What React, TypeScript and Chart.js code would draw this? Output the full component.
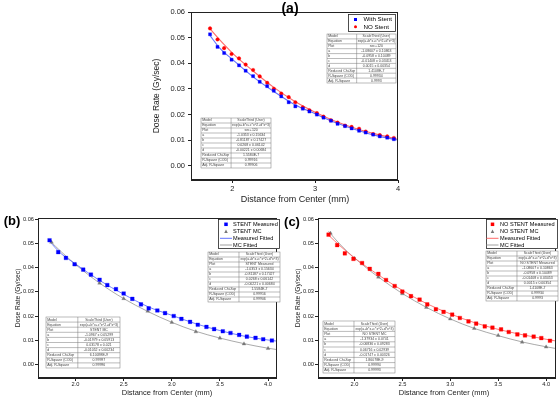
import React, { useEffect, useRef } from "react";
import { Chart, registerables } from "chart.js";
Chart.register(...registerables);

const FONT = '"Liberation Sans", Arial, sans-serif';
Chart.defaults.font.family = FONT;

// ---------------- data ----------------
const measuredX = [1.73, 1.82, 1.9, 1.99, 2.08, 2.16, 2.25, 2.33, 2.42, 2.5, 2.59, 2.68, 2.76, 2.85, 2.93, 3.02, 3.1, 3.19, 3.27, 3.36, 3.44, 3.53, 3.61, 3.7, 3.78, 3.87, 3.95, 4.04];
const withStentMeasured = [0.0513, 0.0464, 0.044, 0.0414, 0.0392, 0.0371, 0.035, 0.0328, 0.0311, 0.0293, 0.0271, 0.0248, 0.0232, 0.0223, 0.0212, 0.02, 0.0188, 0.0176, 0.0164, 0.0155, 0.0146, 0.0137, 0.013, 0.0122, 0.0115, 0.011, 0.0104, 0.0099];
const noStentMeasured = [0.0536, 0.0493, 0.0459, 0.0436, 0.0419, 0.0395, 0.0374, 0.0349, 0.0324, 0.0301, 0.0282, 0.0268, 0.0248, 0.0228, 0.0217, 0.0206, 0.0192, 0.0178, 0.0169, 0.0157, 0.0152, 0.0145, 0.0134, 0.0124, 0.012, 0.0115, 0.0109, 0.0098];
const mcX = [1.75, 2.0, 2.25, 2.5, 2.75, 3.0, 3.25, 3.5, 3.75, 4.0];
const stentMC = [0.0505, 0.0412, 0.0336, 0.0272, 0.022, 0.0174, 0.0135, 0.0109, 0.0085, 0.0066];
const noStentMC = [0.0542, 0.0438, 0.0361, 0.0292, 0.0236, 0.0188, 0.0149, 0.012, 0.0092, 0.0072];
const fitX = [1.73, 1.85, 2.0, 2.25, 2.5, 2.75, 3.0, 3.25, 3.5, 3.75, 4.0, 4.1];
const stentFit = [0.0508, 0.0458, 0.0415, 0.0347, 0.029, 0.0239, 0.0203, 0.0168, 0.014, 0.0117, 0.0101, 0.0096];
const noStentFit = [0.0534, 0.049, 0.044, 0.037, 0.0306, 0.0252, 0.0209, 0.0173, 0.0145, 0.0123, 0.0104, 0.0097];
const stentMCFit = [0.0512, 0.0466, 0.0413, 0.0336, 0.0272, 0.0219, 0.0174, 0.0137, 0.0109, 0.0086, 0.0067, 0.0061];
const noStentMCFit = [0.055, 0.0496, 0.044, 0.0361, 0.0293, 0.0236, 0.0188, 0.0149, 0.0119, 0.0093, 0.0073, 0.0066];

const tableRowNames = ["Model", "Equation", "Plot", "a", "b", "c", "d", "Reduced Chi-Sqr", "R-Square (COD)", "Adj. R-Square"];
const tableA_NoStent = ["ScaleThird (User)", "exp(a+b*x+c*x^2+d*x^3)", "sec+120", "-1.08607 ± 0.10863", "-0.0958 ± 0.10489", "-0.01408 ± 0.03453", "0.0015 ± 0.00354", "1.4108E-7", "0.99934", "0.9993"];
const tableA_Stent = ["ScaleThird (User)", "exp(a+b*x+c*x^2+d*x^3)", "sec+120", "-1.0353 ± 0.15634", "-0.81187 ± 0.17427", "0.0268 ± 0.06142", "-0.00221 ± 0.00684", "1.5584E-7", "0.99916", "0.99906"];
const tableB_Measured = ["ScaleThird (User)", "exp(a+b*x+c*x^2+d*x^3)", "STENT Measured", "-1.0353 ± 0.15634", "-0.81187 ± 0.17427", "0.0268 ± 0.06142", "-0.00221 ± 0.00684", "1.5584E-7", "0.99916", "0.99906"];
const tableB_MC = ["ScaleThird (User)", "exp(a+b*x+c*x^2+d*x^3)", "STENT MC", "-1.0967 ± 0.05299", "-0.01979 ± 0.05913", "0.03178 ± 0.021", "-0.01052 ± 0.00234", "6.10098E-9", "0.99997", "0.99996"];
const tableC_Measured = ["ScaleThird (User)", "exp(a+b*x+c*x^2+d*x^3)", "NO STENT Measured", "-1.08607 ± 0.10863", "-0.0958 ± 0.10489", "-0.01408 ± 0.03453", "0.0015 ± 0.00354", "1.4108E-7", "0.99934", "0.9993"];
const tableC_MC = ["ScaleThird (User)", "exp(a+b*x+c*x^2+d*x^3)", "NO STENT MC", "-1.37934 ± 0.0741", "-0.06836 ± 0.09283", "0.06716 ± 0.02939", "-0.01747 ± 0.00326", "1.86078E-9", "0.99994", "0.99993"];

const xTitle = "Distance from Center (mm)";
const yTitle = "Dose Rate (Gy/sec)";

// ---------------- styles ----------------
const BLUE = "#0000ff";
const RED = "#ff0000";
const GREY_PT = "#777777";
const BLUE_FIT = "#6272ff";
const RED_FIT = "#ff6a6a";
const GREY_FIT = "#a0a0a0";
const INK = "#222222";

const pts = (xs: number[], ys: number[]) => ys.map((y, i) => ({ x: xs[i], y }));

type Box = { x: number; y: number; w: number; h: number };
type LegendItem = { kind: "rect" | "circle" | "triangle" | "line"; color: string; label: string };

function drawMarker(ctx: CanvasRenderingContext2D, kind: string, color: string, x: number, y: number, s: number, half: number) {
  ctx.fillStyle = color;
  ctx.strokeStyle = color;
  if (kind === "rect") {
    ctx.fillRect(x - s / 2, y - s / 2, s, s);
  } else if (kind === "circle") {
    ctx.beginPath();
    ctx.arc(x, y, s / 2, 0, Math.PI * 2);
    ctx.fill();
  } else if (kind === "triangle") {
    ctx.beginPath();
    ctx.moveTo(x, y - s / 2);
    ctx.lineTo(x + s / 2, y + s / 2);
    ctx.lineTo(x - s / 2, y + s / 2);
    ctx.closePath();
    ctx.fill();
  } else {
    ctx.lineWidth = 1;
    ctx.beginPath();
    ctx.moveTo(x - half, y);
    ctx.lineTo(x + half, y);
    ctx.stroke();
  }
}

function drawTable(ctx: CanvasRenderingContext2D, b: Box, values: string[], fs: number) {
  const n = tableRowNames.length;
  const rh = b.h / n;
  const split = b.x + b.w * 0.43;
  ctx.save();
  ctx.fillStyle = "#ffffff";
  ctx.fillRect(b.x, b.y, b.w, b.h);
  ctx.strokeStyle = "#777";
  ctx.lineWidth = 0.5;
  ctx.strokeRect(b.x, b.y, b.w, b.h);
  ctx.beginPath();
  for (let i = 1; i < n; i++) {
    ctx.moveTo(b.x, b.y + rh * i);
    ctx.lineTo(b.x + b.w, b.y + rh * i);
  }
  ctx.moveTo(split, b.y);
  ctx.lineTo(split, b.y + b.h);
  ctx.stroke();
  ctx.fillStyle = "#444";
  ctx.font = `${fs}px ${FONT}`;
  ctx.textBaseline = "middle";
  for (let i = 0; i < n; i++) {
    const cy = b.y + rh * (i + 0.5);
    ctx.textAlign = "left";
    ctx.fillText(tableRowNames[i], b.x + 1.2, cy, split - b.x - 2);
    ctx.textAlign = "center";
    ctx.fillText(values[i], (split + b.x + b.w) / 2, cy, b.x + b.w - split - 2);
  }
  ctx.restore();
}

type PanelSpec = {
  left: number; top: number; width: number; height: number;
  padding: { left: number; top: number; right: number; bottom: number };
  yWidth: number; xHeight: number;
  xMin: number; xMax: number; xStep: number; xDec: number;
  yMin: number; yMax: number;
  tickFont: number; tickPadX: number; tickPadY: number;
  xTitlePos: [number, number]; yTitlePos: [number, number];
  xTitleFont: number; yTitleFont: number;
  label: string; labelPos: [number, number]; labelFont: number;
  legend: { box: Box; markerX: number; textX: number; rows: number[]; font: number; size: number; half: number; items: LegendItem[] };
  tables: { box: Box; values: string[]; font: number }[];
  datasets: any[];
};

function decorPlugin(p: PanelSpec) {
  return {
    id: "decor",
    afterDraw(chart: any) {
      const ctx: CanvasRenderingContext2D = chart.ctx;
      const a = chart.chartArea;
      ctx.save();
      // frame
      ctx.strokeStyle = INK;
      ctx.lineWidth = 1;
      const l = Math.round(a.left) + 0.5, t = Math.round(a.top) + 0.5;
      const r = Math.round(a.right) - 0.5, bt = Math.round(a.bottom) - 0.5;
      ctx.strokeRect(l, t, r - l, bt - t);
      // axis titles
      ctx.fillStyle = INK;
      ctx.textAlign = "center";
      ctx.textBaseline = "middle";
      ctx.font = `${p.xTitleFont}px ${FONT}`;
      ctx.fillText(xTitle, p.xTitlePos[0], p.xTitlePos[1]);
      ctx.save();
      ctx.translate(p.yTitlePos[0], p.yTitlePos[1]);
      ctx.rotate(-Math.PI / 2);
      ctx.font = `${p.yTitleFont}px ${FONT}`;
      ctx.fillText(yTitle, 0, 0);
      ctx.restore();
      // panel label
      ctx.font = `bold ${p.labelFont}px ${FONT}`;
      ctx.fillStyle = "#000";
      ctx.fillText(p.label, p.labelPos[0], p.labelPos[1]);
      // tables
      p.tables.forEach((tb) => drawTable(ctx, tb.box, tb.values, tb.font));
      // legend
      const lg = p.legend;
      ctx.fillStyle = "#fff";
      ctx.fillRect(lg.box.x, lg.box.y, lg.box.w, lg.box.h);
      ctx.strokeStyle = INK;
      ctx.lineWidth = 0.8;
      ctx.strokeRect(lg.box.x + 0.5, lg.box.y + 0.5, lg.box.w - 1, lg.box.h - 1);
      lg.items.forEach((it, i) => {
        drawMarker(ctx, it.kind, it.color, lg.markerX, lg.rows[i], lg.size, lg.half);
        ctx.fillStyle = "#000";
        ctx.font = `${lg.font}px ${FONT}`;
        ctx.textAlign = "left";
        ctx.textBaseline = "middle";
        ctx.fillText(it.label, lg.textX, lg.rows[i]);
      });
      ctx.restore();
    },
  };
}

function makeConfig(p: PanelSpec): any {
  const grid = { display: true, drawOnChartArea: false, drawTicks: true, tickLength: 3, color: INK, lineWidth: 1 };
  const border = { display: true, color: INK, width: 1 };
  return {
    type: "scatter",
    data: { datasets: p.datasets },
    options: {
      responsive: false,
      maintainAspectRatio: false,
      animation: false,
      events: [],
      layout: { padding: p.padding },
      plugins: { legend: { display: false }, tooltip: { enabled: false } },
      scales: {
        x: {
          type: "linear", min: p.xMin, max: p.xMax,
          grid, border,
          ticks: {
            stepSize: p.xStep, includeBounds: false, autoSkip: false, maxRotation: 0,
            padding: p.tickPadX, color: INK, font: { size: p.tickFont, family: FONT },
            callback: (v: any) => Number(v).toFixed(p.xDec),
          },
          title: { display: false },
          afterFit: (s: any) => { s.height = p.xHeight; s.paddingLeft = 0; s.paddingRight = 0; },
        },
        y: {
          type: "linear", min: p.yMin, max: p.yMax,
          grid, border,
          ticks: {
            stepSize: 0.01, includeBounds: false, autoSkip: false,
            padding: p.tickPadY, color: INK, font: { size: p.tickFont, family: FONT },
            callback: (v: any) => Number(v).toFixed(2),
          },
          title: { display: false },
          afterFit: (s: any) => { s.width = p.yWidth; s.paddingTop = 0; s.paddingBottom = 0; },
        },
      },
    },
    plugins: [decorPlugin(p)],
  };
}

const pointSet = (label: string, xs: number[], ys: number[], style: string, color: string, r: number) => ({
  label, data: pts(xs, ys), pointStyle: style, pointRadius: r,
  pointBackgroundColor: color, pointBorderColor: color, pointBorderWidth: 0.3, showLine: false,
});
const lineSet = (label: string, ys: number[], color: string, w: number) => ({
  label, data: pts(fitX, ys), showLine: true, pointRadius: 0, borderColor: color, borderWidth: w,
  backgroundColor: color, cubicInterpolationMode: "monotone", fill: false,
});

const panelA: PanelSpec = {
  left: 150, top: 0, width: 260, height: 206,
  padding: { left: 2, top: 12, right: 12, bottom: 0 },
  yWidth: 39, xHeight: 26,
  xMin: 1.5, xMax: 4.0, xStep: 1, xDec: 0,
  yMin: -0.0055, yMax: 0.06,
  tickFont: 7.5, tickPadX: 1.5, tickPadY: 3,
  xTitlePos: [145, 200], yTitlePos: [7, 96], xTitleFont: 9, yTitleFont: 8.5,
  label: "(a)", labelPos: [140, 9], labelFont: 14,
  legend: {
    box: { x: 198, y: 14, w: 48, h: 18 }, markerX: 205.5, textX: 213.5, rows: [19.5, 26.8], font: 6.2, size: 3, half: 5,
    items: [
      { kind: "rect", color: BLUE, label: "With Stent" },
      { kind: "circle", color: RED, label: "NO Stent" },
    ],
  },
  tables: [
    { box: { x: 177, y: 34, w: 69, h: 49 }, values: tableA_NoStent, font: 3.5 },
    { box: { x: 51, y: 118, w: 70, h: 50 }, values: tableA_Stent, font: 3.5 },
  ],
  datasets: [
    pointSet("With Stent", measuredX, withStentMeasured, "rect", BLUE, 2.2),
    pointSet("NO Stent", measuredX, noStentMeasured, "circle", RED, 1.8),
    lineSet("With Stent fit", stentFit, BLUE_FIT, 1.1),
    lineSet("NO Stent fit", noStentFit, RED_FIT, 1.1),
  ],
};

const panelB: PanelSpec = {
  left: 0, top: 210, width: 281, height: 187,
  padding: { left: 14, top: 8, right: 1, bottom: 0 },
  yWidth: 24, xHeight: 19,
  xMin: 1.61, xMax: 4.09, xStep: 0.5, xDec: 1,
  yMin: -0.0056, yMax: 0.0605,
  tickFont: 5.7, tickPadX: 0, tickPadY: 1,
  xTitlePos: [167, 182.5], yTitlePos: [18, 88], xTitleFont: 7.5, yTitleFont: 6.7,
  label: "(b)", labelPos: [12, 11.5], labelFont: 13,
  legend: {
    box: { x: 218, y: 9, w: 62, h: 30 }, markerX: 226, textX: 233, rows: [14.3, 21.3, 28.3, 35], font: 5.6, size: 3.5, half: 6,
    items: [
      { kind: "rect", color: BLUE, label: "STENT Measured" },
      { kind: "triangle", color: GREY_PT, label: "STENT MC" },
      { kind: "line", color: BLUE_FIT, label: "Measured Fitted" },
      { kind: "line", color: GREY_FIT, label: "MC Fitted" },
    ],
  },
  tables: [
    { box: { x: 208, y: 42, w: 72, h: 50 }, values: tableB_Measured, font: 3.5 },
    { box: { x: 46, y: 107, w: 74, h: 51 }, values: tableB_MC, font: 3.5 },
  ],
  datasets: [
    pointSet("STENT Measured", measuredX, withStentMeasured, "rect", BLUE, 2.6),
    pointSet("STENT MC", mcX, stentMC, "triangle", GREY_PT, 2.2),
    lineSet("Measured Fitted", stentFit, BLUE_FIT, 0.9),
    lineSet("MC Fitted", stentMCFit, GREY_FIT, 0.9),
  ],
};

const panelC: PanelSpec = {
  left: 280, top: 210, width: 280, height: 187,
  padding: { left: 14, top: 8, right: 2, bottom: 0 },
  yWidth: 24, xHeight: 19,
  xMin: 1.62, xMax: 4.1, xStep: 0.5, xDec: 1,
  yMin: -0.0056, yMax: 0.0605,
  tickFont: 5.7, tickPadX: 0, tickPadY: 1,
  xTitlePos: [164, 182.5], yTitlePos: [18, 88], xTitleFont: 7.5, yTitleFont: 6.7,
  label: "(c)", labelPos: [12, 12], labelFont: 13,
  legend: {
    box: { x: 206, y: 9, w: 72, h: 30 }, markerX: 212.5, textX: 220, rows: [14.3, 21.3, 28.3, 35], font: 5.6, size: 3.5, half: 6,
    items: [
      { kind: "rect", color: RED, label: "NO STENT Measured" },
      { kind: "triangle", color: GREY_PT, label: "NO STENT MC" },
      { kind: "line", color: RED_FIT, label: "Measured Fitted" },
      { kind: "line", color: GREY_FIT, label: "MC Fitted" },
    ],
  },
  tables: [
    { box: { x: 206, y: 41, w: 72, h: 50 }, values: tableC_Measured, font: 3.5 },
    { box: { x: 43, y: 111, w: 72, h: 52 }, values: tableC_MC, font: 3.5 },
  ],
  datasets: [
    pointSet("NO STENT Measured", measuredX, noStentMeasured, "rect", RED, 2.6),
    pointSet("NO STENT MC", mcX, noStentMC, "triangle", GREY_PT, 2.2),
    lineSet("Measured Fitted", noStentFit, RED_FIT, 0.9),
    lineSet("MC Fitted", noStentMCFit, GREY_FIT, 0.9),
  ],
};

function Panel({ spec }: { spec: PanelSpec }) {
  const ref = useRef<HTMLCanvasElement>(null);
  useEffect(() => {
    const chart = new Chart(ref.current as HTMLCanvasElement, makeConfig(spec));
    return () => chart.destroy();
  }, [spec]);
  return (
    <div style={{ position: "absolute", left: spec.left, top: spec.top, width: spec.width, height: spec.height }}>
      <canvas ref={ref} width={spec.width} height={spec.height} style={{ width: spec.width, height: spec.height, display: "block" }} />
    </div>
  );
}

export default function App() {
  return (
    <div style={{ position: "absolute", left: 0, top: 0, width: 560, height: 398, background: "#ffffff", overflow: "hidden" }}>
      <Panel spec={panelA} />
      <Panel spec={panelB} />
      <Panel spec={panelC} />
    </div>
  );
}
